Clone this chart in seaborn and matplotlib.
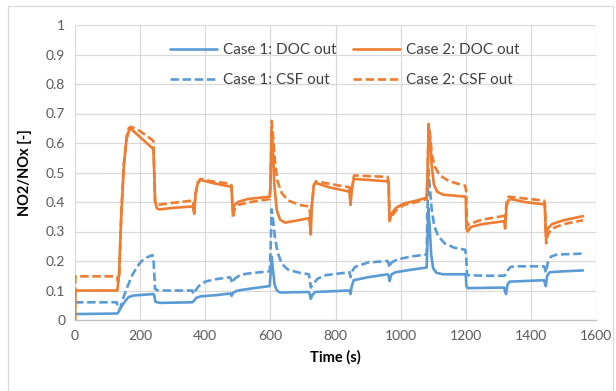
import matplotlib
matplotlib.use("Agg")
import matplotlib.pyplot as plt
import seaborn as sns
import pandas as pd
from matplotlib.lines import Line2D
from matplotlib.patches import Rectangle

# ---------------- data ----------------
c1_doc_t = [0, 130, 135, 145, 155, 165, 180, 240, 243, 247, 260, 360, 364, 372, 385, 440, 478, 481, 486, 500, 550, 598,
            601, 604, 608, 613, 620, 630, 718, 721, 724, 729, 738, 843, 846, 850, 856, 900, 960, 963, 966, 972, 985,
            1030, 1080, 1082, 1085, 1089, 1094, 1100, 1110, 1130, 1200, 1202, 1206, 1318, 1321, 1324, 1328, 1335,
            1400, 1440, 1443, 1446, 1450, 1458, 1500, 1560]
c1_doc_v = [0.02, 0.022, 0.03, 0.05, 0.065, 0.078, 0.083, 0.088, 0.085, 0.062, 0.058, 0.06, 0.063, 0.075, 0.08, 0.085,
            0.09, 0.082, 0.093, 0.10, 0.108, 0.115, 0.16, 0.215, 0.17, 0.12, 0.10, 0.093, 0.095, 0.088, 0.072, 0.085,
            0.095, 0.10, 0.088, 0.115, 0.135, 0.145, 0.155, 0.15, 0.132, 0.155, 0.162, 0.17, 0.178, 0.25, 0.38, 0.32,
            0.22, 0.175, 0.16, 0.155, 0.155, 0.115, 0.108, 0.11, 0.095, 0.088, 0.12, 0.13, 0.133, 0.135, 0.125, 0.115,
            0.15, 0.162, 0.165, 0.168]

c1_csf_t = [0, 128, 132, 137, 142, 150, 160, 175, 190, 205, 222, 238, 241, 246, 255, 300, 360, 364, 370, 380, 400, 430,
            476, 479, 483, 490, 510, 550, 598, 601, 604, 608, 614, 622, 635, 655, 690, 718, 721, 724, 730, 745, 770,
            843, 846, 851, 860, 900, 960, 963, 966, 972, 990, 1030, 1080, 1082, 1085, 1089, 1095, 1103, 1115, 1135,
            1165, 1198, 1201, 1204, 1260, 1318, 1324, 1330, 1338, 1360, 1440, 1443, 1446, 1452, 1462, 1480, 1560]
c1_csf_v = [0.06, 0.06, 0.045, 0.035, 0.05, 0.08, 0.11, 0.15, 0.18, 0.20, 0.213, 0.22, 0.205, 0.105, 0.10, 0.10, 0.10,
            0.088, 0.10, 0.115, 0.13, 0.138, 0.145, 0.138, 0.125, 0.14, 0.154, 0.16, 0.165, 0.25, 0.375, 0.34, 0.28,
            0.23, 0.19, 0.17, 0.16, 0.155, 0.14, 0.11, 0.12, 0.14, 0.152, 0.162, 0.145, 0.165, 0.18, 0.195, 0.20,
            0.192, 0.178, 0.195, 0.205, 0.215, 0.222, 0.35, 0.51, 0.46, 0.38, 0.32, 0.285, 0.26, 0.245, 0.238, 0.22,
            0.152, 0.15, 0.15, 0.155, 0.17, 0.18, 0.182, 0.182, 0.175, 0.16, 0.195, 0.215, 0.222, 0.225]

c2_doc_t = [0, 1, 130, 135, 142, 150, 158, 165, 172, 185, 210, 238, 241, 246, 252, 260, 300, 362, 366, 370, 376, 385,
            420, 478, 481, 484, 490, 500, 530, 598, 600, 604, 607, 612, 620, 630, 645, 680, 718, 721, 724, 727, 733,
            738, 780, 843, 846, 850, 856, 900, 960, 963, 966, 972, 985, 1010, 1050, 1080, 1083, 1086, 1090, 1095,
            1102, 1112, 1130, 1200, 1202, 1206, 1215, 1250, 1318, 1321, 1325, 1330, 1340, 1380, 1440, 1443, 1446,
            1452, 1465, 1500, 1560]
c2_doc_v = [0.0, 0.10, 0.10, 0.15, 0.35, 0.52, 0.61, 0.64, 0.648, 0.635, 0.61, 0.582, 0.575, 0.40, 0.378, 0.375, 0.38,
            0.385, 0.36, 0.42, 0.46, 0.475, 0.465, 0.452, 0.445, 0.375, 0.39, 0.40, 0.41, 0.418, 0.45, 0.64, 0.60,
            0.46, 0.37, 0.34, 0.33, 0.337, 0.345, 0.33, 0.29, 0.38, 0.455, 0.465, 0.45, 0.435, 0.39, 0.44, 0.478,
            0.475, 0.47, 0.46, 0.335, 0.36, 0.38, 0.395, 0.405, 0.415, 0.50, 0.655, 0.62, 0.53, 0.46, 0.435, 0.425,
            0.418, 0.31, 0.30, 0.315, 0.325, 0.335, 0.31, 0.38, 0.405, 0.41, 0.40, 0.392, 0.385, 0.285, 0.31, 0.325,
            0.338, 0.352]

c2_csf_t = [0, 1, 128, 132, 136, 142, 150, 158, 165, 172, 200, 238, 241, 246, 252, 300, 362, 366, 370, 376, 385, 420,
            478, 481, 485, 490, 500, 540, 598, 600, 604, 608, 614, 622, 635, 655, 690, 718, 721, 724, 728, 734, 740,
            800, 843, 846, 851, 857, 900, 960, 963, 966, 972, 985, 1010, 1050, 1080, 1083, 1086, 1090, 1096, 1105,
            1120, 1150, 1198, 1201, 1204, 1210, 1250, 1318, 1321, 1325, 1332, 1380, 1440, 1443, 1447, 1452, 1465,
            1500, 1560]
c2_csf_v = [0.0, 0.148, 0.148, 0.13, 0.15, 0.36, 0.53, 0.62, 0.65, 0.655, 0.64, 0.61, 0.605, 0.40, 0.39, 0.397, 0.405,
            0.37, 0.43, 0.465, 0.478, 0.47, 0.462, 0.455, 0.345, 0.375, 0.39, 0.40, 0.41, 0.45, 0.675, 0.63, 0.54,
            0.47, 0.43, 0.405, 0.39, 0.385, 0.37, 0.33, 0.40, 0.458, 0.47, 0.458, 0.45, 0.41, 0.45, 0.49, 0.488,
            0.485, 0.47, 0.34, 0.35, 0.37, 0.39, 0.40, 0.41, 0.50, 0.665, 0.63, 0.56, 0.52, 0.49, 0.47, 0.455, 0.44,
            0.32, 0.325, 0.34, 0.353, 0.335, 0.40, 0.418, 0.412, 0.405, 0.395, 0.26, 0.29, 0.31, 0.325, 0.338]

series_names = ["Case 1: DOC out", "Case 1: CSF out", "Case 2: DOC out", "Case 2: CSF out"]
x_ticks = [0, 200, 400, 600, 800, 1000, 1200, 1400, 1600]
y_ticks = [0, 0.1, 0.2, 0.3, 0.4, 0.5, 0.6, 0.7, 0.8, 0.9, 1]
y_tick_labels = ["0", "0.1", "0.2", "0.3", "0.4", "0.5", "0.6", "0.7", "0.8", "0.9", "1"]

# ---------------- frame ----------------
frames = []
for name, t, v in zip(series_names,
                      [c1_doc_t, c1_csf_t, c2_doc_t, c2_csf_t],
                      [c1_doc_v, c1_csf_v, c2_doc_v, c2_csf_v]):
    frames.append(pd.DataFrame({"t": t, "v": v, "series": name}))
df = pd.concat(frames, ignore_index=True)

sns.set_theme(style="white")
plt.rcParams["font.family"] = ["Lato", "DejaVu Sans"]

BLUE = "#5B9BD5"
ORANGE = "#ED7D31"
palette = {series_names[0]: BLUE, series_names[1]: BLUE,
           series_names[2]: ORANGE, series_names[3]: ORANGE}
dash = (3.2, 1.4)
dashes = {series_names[0]: "", series_names[1]: dash,
          series_names[2]: "", series_names[3]: dash}
LW = 1.9

fig = plt.figure(figsize=(6.16, 3.91), dpi=100)
ax = fig.add_axes([75 / 616, 1 - 320 / 391, 521 / 616, 295 / 391])

sns.lineplot(data=df, x="t", y="v", hue="series", style="series",
             palette=palette, dashes=dashes, estimator=None, sort=False,
             linewidth=LW, ax=ax, legend=False)

ax.set_xlim(0, 1600)
ax.set_ylim(0, 1)
ax.set_xticks(x_ticks)
ax.set_yticks(y_ticks)
ax.set_yticklabels(y_tick_labels)
ax.grid(True, color="#D9D9D9", linewidth=0.9)
ax.set_axisbelow(True)
for s in ["top", "right", "left"]:
    ax.spines[s].set_visible(False)
ax.spines["bottom"].set_color("#BFBFBF")
ax.spines["bottom"].set_linewidth(0.9)
ax.tick_params(axis="both", length=0, colors="#595959", labelsize=10, pad=7)
ax.set_xlabel("Time (s)", fontsize=10.5, fontweight="bold", color="#000000", labelpad=6)
ax.set_ylabel("NO2/NOx [-]", fontsize=10.5, fontweight="bold", color="#000000", labelpad=10)

handles = [
    Line2D([], [], color=BLUE, lw=LW),
    Line2D([], [], color=BLUE, lw=LW, dashes=dash),
    Line2D([], [], color=ORANGE, lw=LW),
    Line2D([], [], color=ORANGE, lw=LW, dashes=dash),
]
leg = ax.legend(handles, series_names, ncol=2, frameon=False,
                loc="upper left", bbox_to_anchor=(0.155, 0.985),
                fontsize=11, handlelength=3.1, handletextpad=0.4,
                columnspacing=1.05, labelspacing=1.05)
for txt in leg.get_texts():
    txt.set_color("#404040")

fig.patches.append(Rectangle((8 / 616, 0), (613 - 8) / 616, 1 - 6 / 391,
                             transform=fig.transFigure, fill=False,
                             edgecolor="#D9D9D9", linewidth=0.9))

fig.savefig("out.png", dpi=100)
